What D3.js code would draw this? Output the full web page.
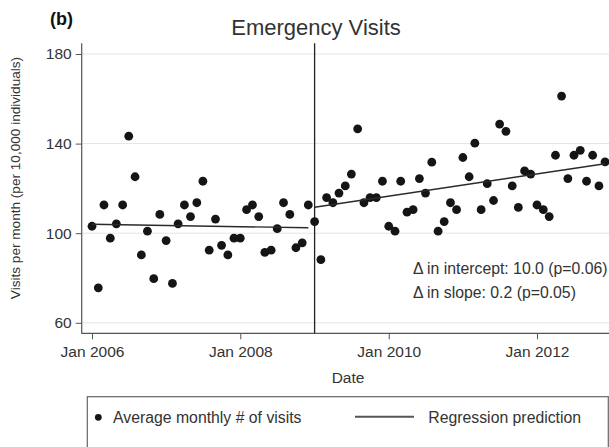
<!DOCTYPE html>
<html>
<head>
<meta charset="utf-8">
<script src="https://cdn.jsdelivr.net/npm/d3@7"></script>
<style>
  body { margin: 0; background: #fff; }
  svg { display: block; font-family: "Liberation Sans", Arial, sans-serif; }
</style>
</head>
<body>
<div id="chart"></div>
<script>
// monthly average visits, Jan 2006 .. Dec 2012
const visits = [
  103.1, 75.6, 112.6, 97.8, 104.2, 112.6, 143.3, 125.2, 90.3, 100.9, 79.7, 108.4,
  96.7, 77.6, 104.2, 112.6, 107.4, 113.6, 123.2, 92.4, 106.3, 94.6, 90.3, 97.8,
  97.8, 110.5, 112.6, 107.4, 91.4, 92.4, 102.0, 113.6, 108.4, 93.5, 95.7, 112.6,
  105.2, 88.2, 115.9, 113.6, 117.9, 121.1, 126.4, 146.6, 113.6, 115.9, 115.9, 123.2,
  103.1, 100.9, 123.2, 109.4, 110.5, 124.4, 117.9, 131.7, 100.9, 105.2, 113.6, 110.5,
  133.8, 125.2, 140.2, 110.5, 122.1, 114.6, 148.7, 145.5, 121.1, 111.5, 127.8, 126.4,
  112.6, 110.5, 107.4, 134.8, 161.2, 124.4, 134.8, 137.0, 123.2, 134.8, 121.1, 131.8
];
const months = d3.timeMonth.range(new Date(2006, 0, 1), new Date(2013, 0, 1));

// regression predictions (endpoints of each segment)
const preFit = [["2006-01", 104.0], ["2008-12", 102.4]];
const postFit = [["2009-01", 111.6], ["2012-12", 131.0]];
const interruption = "2009-01";

const yTicks = [60, 100, 140, 180];
const xTicks = ["2006-01", "2008-01", "2010-01", "2012-01"];

const parse = d3.timeParse("%Y-%m");
const width = 609, height = 447;

const svg = d3.select("#chart").append("svg")
  .attr("width", width)
  .attr("height", height);

const plotLeft = 81.7, plotTop = 43.3, plotBottom = 333.3, plotRight = 640;

const x = d3.scaleTime()
  .domain([new Date(2006, 0, 1), new Date(2012, 0, 1)])
  .range([92, 537]);
const y = d3.scaleLinear()
  .domain([60, 180])
  .range([322.8, 54]);

const textCol = "#333";
const axisCol = "#555";

// gridlines
svg.append("g").selectAll("line")
  .data(yTicks)
  .enter().append("line")
  .attr("x1", plotLeft).attr("x2", plotRight)
  .attr("y1", d => y(d)).attr("y2", d => y(d))
  .attr("stroke", "#e4e4e4")
  .attr("stroke-width", 1);

// y axis
const yAxis = svg.append("g")
  .attr("transform", `translate(${plotLeft},0)`)
  .call(d3.axisLeft(y).tickValues(yTicks).tickSize(6).tickPadding(4));
yAxis.select(".domain").remove();
yAxis.selectAll(".tick line").attr("stroke", axisCol);
yAxis.selectAll(".tick text")
  .attr("fill", textCol)
  .style("font-size", "15.5px")
  .style("font-family", "Liberation Sans, Arial, sans-serif");

// x axis
const xAxis = svg.append("g")
  .attr("transform", `translate(0,${plotBottom})`)
  .call(d3.axisBottom(x)
    .tickValues(xTicks.map(parse))
    .tickFormat(d3.timeFormat("%b %Y"))
    .tickSize(6).tickPadding(7));
xAxis.select(".domain").remove();
xAxis.selectAll(".tick line").attr("stroke", axisCol);
xAxis.selectAll(".tick text")
  .attr("fill", textCol)
  .style("font-size", "15.5px")
  .style("font-family", "Liberation Sans, Arial, sans-serif");

// frame lines
svg.append("line")
  .attr("x1", plotLeft).attr("x2", plotLeft)
  .attr("y1", plotTop).attr("y2", plotBottom + 0.5)
  .attr("stroke", axisCol).attr("stroke-width", 1.2);
svg.append("line")
  .attr("x1", plotLeft).attr("x2", plotRight)
  .attr("y1", plotBottom).attr("y2", plotBottom)
  .attr("stroke", axisCol).attr("stroke-width", 1.2);

// interruption line
svg.append("line")
  .attr("x1", x(parse(interruption))).attr("x2", x(parse(interruption)))
  .attr("y1", plotTop).attr("y2", plotBottom)
  .attr("stroke", "#222").attr("stroke-width", 1.3);

// points
svg.append("g").selectAll("circle")
  .data(visits)
  .enter().append("circle")
  .attr("cx", (d, i) => x(months[i]))
  .attr("cy", d => y(d))
  .attr("r", 4.4)
  .attr("fill", "#151515");

// regression lines
const line = d3.line()
  .x(d => x(parse(d[0])))
  .y(d => y(d[1]));
[preFit, postFit].forEach(seg => {
  svg.append("path")
    .attr("d", line(seg))
    .attr("fill", "none")
    .attr("stroke", "#2a2a2a")
    .attr("stroke-width", 1.4);
});

// annotation
svg.append("text")
  .attr("x", 413).attr("y", 274)
  .attr("fill", textCol)
  .style("font-size", "15.8px")
  .text("\u0394 in intercept: 10.0 (p=0.06)");
svg.append("text")
  .attr("x", 413).attr("y", 298)
  .attr("fill", textCol)
  .style("font-size", "15.8px")
  .text("\u0394 in slope: 0.2 (p=0.05)");

// titles
svg.append("text")
  .attr("x", 50).attr("y", 25)
  .attr("fill", "#111")
  .style("font-size", "18px")
  .style("font-weight", "bold")
  .text("(b)");

svg.append("text")
  .attr("x", 316).attr("y", 35)
  .attr("text-anchor", "middle")
  .attr("fill", textCol)
  .style("font-size", "22px")
  .text("Emergency Visits");

svg.append("text")
  .attr("transform", "translate(19.5,178) rotate(-90)")
  .attr("text-anchor", "middle")
  .attr("fill", textCol)
  .style("font-size", "13.6px")
  .text("Visits per month (per 10,000 individuals)");

svg.append("text")
  .attr("x", 348).attr("y", 382.5)
  .attr("text-anchor", "middle")
  .attr("fill", textCol)
  .style("font-size", "15.5px")
  .text("Date");

// legend
const legend = svg.append("g");
legend.append("rect")
  .attr("x", 87.3).attr("y", 396.7)
  .attr("width", 521).attr("height", 80)
  .attr("fill", "#fff")
  .attr("stroke", "#666").attr("stroke-width", 1.2);
legend.append("circle")
  .attr("cx", 98.3).attr("cy", 417.3)
  .attr("r", 3.4)
  .attr("fill", "#151515");
legend.append("text")
  .attr("x", 113).attr("y", 422.5)
  .attr("fill", textCol)
  .style("font-size", "15.8px")
  .text("Average monthly # of visits");
legend.append("line")
  .attr("x1", 355).attr("x2", 414)
  .attr("y1", 416.8).attr("y2", 416.8)
  .attr("stroke", "#555").attr("stroke-width", 2);
legend.append("text")
  .attr("x", 428.3).attr("y", 422.5)
  .attr("fill", textCol)
  .style("font-size", "15.8px")
  .text("Regression prediction");
</script>
</body>
</html>
